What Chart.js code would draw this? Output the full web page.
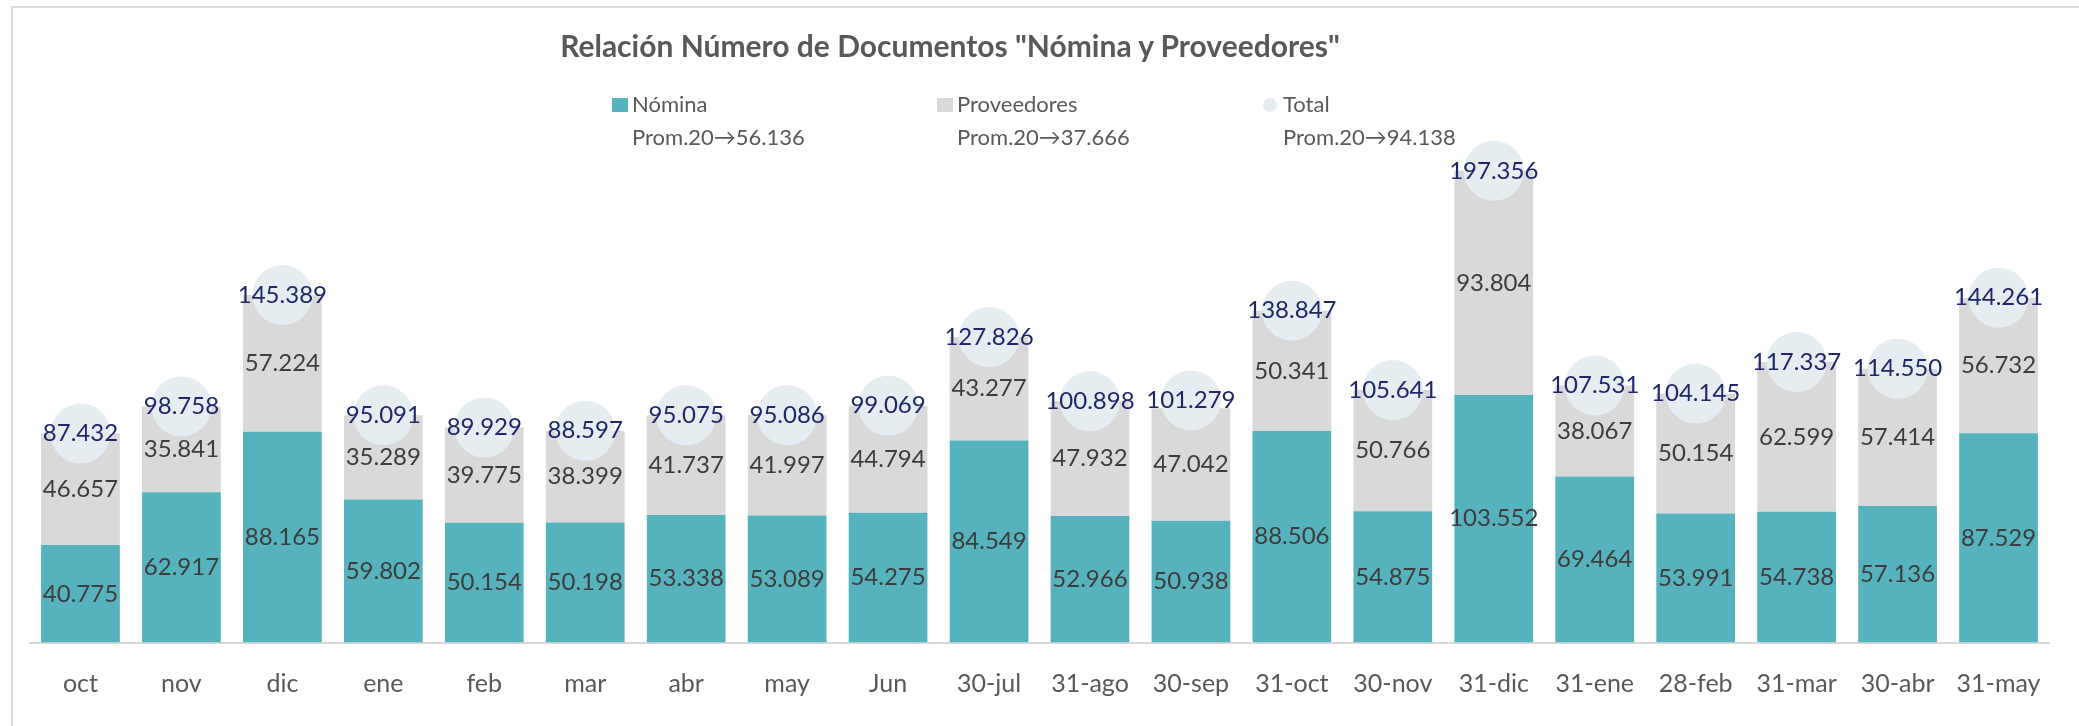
<!DOCTYPE html>
<html lang="es">
<head>
<meta charset="utf-8">
<title>Relación Número de Documentos</title>
<script src="https://cdn.jsdelivr.net/npm/chart.js@4.4.1/dist/chart.umd.min.js"></script>
<style>
    html, body { margin: 0; padding: 0; background: #fff; }
    #wrap { position: relative; width: 2079px; height: 726px; overflow: hidden; font-family: Lato, "Open Sans", sans-serif; }
    #frame { position: absolute; left: 11px; top: 6px; right: 0; bottom: -4px; border-left: 2px solid #dcdcdc; border-top: 2px solid #dcdcdc; }
    #chartBox { position: absolute; left: 0; top: 0; width: 2079px; height: 726px; }
    #title { position: absolute; left: 0; width: 1900px; top: 27px; text-align: center; font-weight: bold; font-size: 30px; color: #595959; }
    .leg { position: absolute; top: 87px; color: #595959; font-size: 22px; line-height: 33px; }
    .leg .sw { position: absolute; left: -20px; top: 11px; width: 16px; height: 14px; }
    .leg .dot { position: absolute; left: -20px; top: 11px; width: 14px; height: 14px; border-radius: 50%; }
</style>
</head>
<body>
<div id="wrap">
    <div id="frame"></div>
    <div id="chartBox"><canvas id="docsChart"></canvas></div>
    <div id="title">Relación Número de Documentos "Nómina y Proveedores"</div>
    <div id="legend"></div>
</div>
<script>
// Periodos (eje X)
const categories = ['oct', 'nov', 'dic', 'ene', 'feb', 'mar', 'abr', 'may', 'Jun', '30-jul',
    '31-ago', '30-sep', '31-oct', '30-nov', '31-dic', '31-ene', '28-feb', '31-mar', '30-abr', '31-may'];

// Número de documentos por tipo
const nomina = [40775, 62917, 88165, 59802, 50154, 50198, 53338, 53089, 54275, 84549,
    52966, 50938, 88506, 54875, 103552, 69464, 53991, 54738, 57136, 87529];
const proveedores = [46657, 35841, 57224, 35289, 39775, 38399, 41737, 41997, 44794, 43277,
    47932, 47042, 50341, 50766, 93804, 38067, 50154, 62599, 57414, 56732];
const total = [87432, 98758, 145389, 95091, 89929, 88597, 95075, 95086, 99069, 127826,
    100898, 101279, 138847, 105641, 197356, 107531, 104145, 117337, 114550, 144261];

// Promedios que se muestran en la leyenda
const seriesNames = ['Nómina', 'Proveedores', 'Total'];
const promedios = [56136, 37666, 94138];

const COLORS = { nomina: '#56b3bd', proveedores: '#d9d9d9', total: '#e5edf0' };

// 87432 -> "87.432"
function fmt(v) {
    return String(v).replace(/\B(?=(\d{3})+(?!\d))/g, '.');
}

// Leyenda en dos líneas (nombre + promedio)
const legendX = [632, 957, 1283];
const legendDiv = document.getElementById('legend');
seriesNames.forEach((name, i) => {
    const item = document.createElement('div');
    item.className = 'leg';
    item.style.left = legendX[i] + 'px';
    const mark = i === 2 ? `<span class="dot" style="background:${COLORS.total}"></span>`
        : `<span class="sw" style="background:${i === 0 ? COLORS.nomina : COLORS.proveedores}"></span>`;
    item.innerHTML = `${mark}<div>${name}</div><div>Prom.20→${fmt(promedios[i])}</div>`;
    legendDiv.appendChild(item);
});

// Etiquetas de valor: centradas en cada segmento y sobre cada círculo del total
const valueLabels = {
    id: 'valueLabels',
    afterDatasetsDraw(chart) {
        const ctx = chart.ctx;
        ctx.save();
        ctx.textAlign = 'center';
        ctx.textBaseline = 'middle';
        ctx.font = '24px Lato, "Open Sans", sans-serif';
        chart.data.datasets.forEach((ds, i) => {
            const meta = chart.getDatasetMeta(i);
            meta.data.forEach((el, j) => {
                const p = el.getProps(['x', 'y', 'base'], true);
                const y = ds.type === 'line' ? p.y : (p.y + p.base) / 2;
                ctx.fillStyle = ds.labelColor;
                ctx.fillText(fmt(ds.data[j]), p.x, y);
            });
        });
        ctx.restore();
    }
};

new Chart(document.getElementById('docsChart'), {
    type: 'bar',
    data: {
        labels: categories,
        datasets: [
            {
                type: 'line',
                label: 'Total',
                data: total,
                stack: 'total',
                showLine: false,
                pointRadius: 30,
                pointBackgroundColor: COLORS.total,
                pointBorderWidth: 0,
                labelColor: '#1f266b',
                order: 0,
                clip: false
            },
            {
                label: 'Nómina',
                data: nomina,
                stack: 'docs',
                backgroundColor: COLORS.nomina,
                labelColor: '#3d3d3d',
                order: 1
            },
            {
                label: 'Proveedores',
                data: proveedores,
                stack: 'docs',
                backgroundColor: COLORS.proveedores,
                labelColor: '#3d3d3d',
                order: 2
            }
        ]
    },
    options: {
        responsive: true,
        maintainAspectRatio: false,
        animation: false,
        events: [],
        layout: { padding: { left: 16, right: 9, top: 45, bottom: 0 } },
        datasets: { bar: { barPercentage: 0.78, categoryPercentage: 1 } },
        plugins: {
            legend: { display: false },
            tooltip: { enabled: false },
            title: { display: false }
        },
        scales: {
            x: {
                stacked: true,
                grid: { display: false, drawTicks: false },
                border: { display: true, color: '#d9d9d9', width: 2 },
                ticks: {
                    padding: 28,
                    color: '#595959',
                    font: { family: 'Lato, "Open Sans", sans-serif', size: 25, lineHeight: 1.1 },
                    maxRotation: 0,
                    autoSkip: false
                }
            },
            y: {
                stacked: true,
                display: false,
                min: 0,
                max: 250000
            }
        }
    },
    plugins: [valueLabels]
});
</script>
</body>
</html>
